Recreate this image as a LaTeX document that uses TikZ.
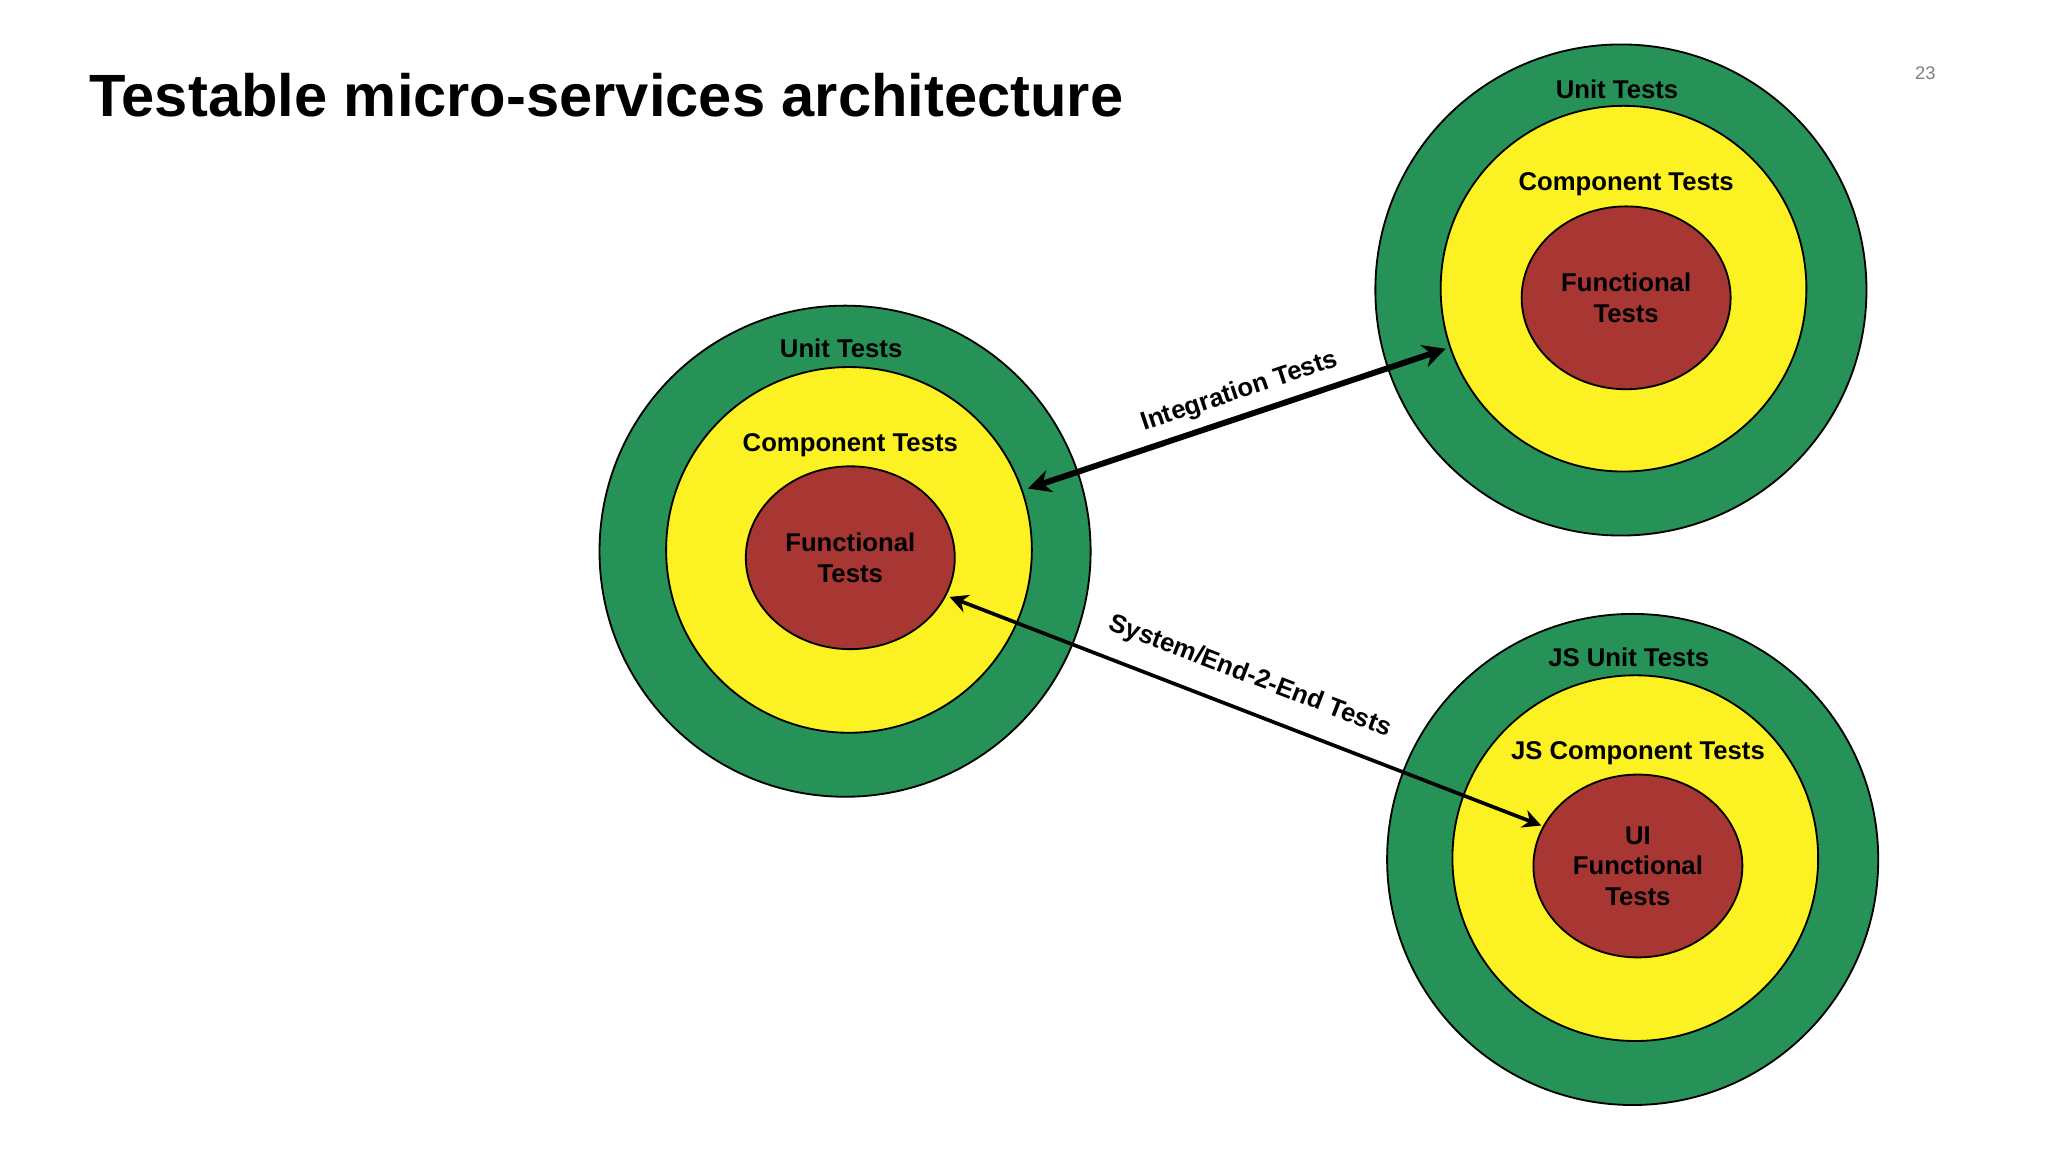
\documentclass[tikz,border=0pt]{standalone}
\usepackage{fontspec}
\setmainfont{Liberation Sans}
\usetikzlibrary{arrows.meta}
\definecolor{ogreen}{HTML}{269257}
\definecolor{oyellow}{HTML}{FCF122}
\definecolor{ored}{HTML}{A83632}
\tikzset{
 outer/.style={circle,draw=black,line width=0.4pt,fill=ogreen,minimum size=3.76cm,inner sep=0},
 mid/.style={circle,draw=black,line width=0.4pt,fill=oyellow,minimum size=2.8cm,inner sep=0},
 core/.style={ellipse,draw=black,line width=0.4pt,fill=ored,minimum width=1.6cm,minimum height=1.4cm,inner sep=0},
 lbl/.style={font=\fontsize{5.6}{6.6}\selectfont\bfseries,align=center,inner sep=0},
}
\usetikzlibrary{shapes.geometric}
\begin{document}
\begin{tikzpicture}
\useasboundingbox (0,0) rectangle (15.68,-8.82);
\node[anchor=west,inner sep=0,font=\fontsize{13}{15}\selectfont\bfseries] (title) at (0.68,-0.73) {Testable micro-services architecture};
\node[text=gray,font=\fontsize{4}{5}\selectfont] (pg) at (14.74,-0.56) {23};
% left
\node[outer] (lo) at (6.47,-4.22) {};
\node[mid] (lm) at (6.50,-4.21) {};
\node[core] (lc) at (6.51,-4.27) {};
\node[lbl] (lt1) at (6.44,-2.67) {Unit Tests};
\node[lbl] (lt2) at (6.51,-3.41) {Component Tests};
\node[lbl] (lt3) at (6.51,-4.27) {Functional\\Tests};
% top right
\node[outer] (to) at (12.41,-2.22) {};
\node[mid] (tm) at (12.43,-2.21) {};
\node[core] (tc) at (12.45,-2.28) {};
\node[lbl] (tt1) at (12.38,-0.68) {Unit Tests};
\node[lbl] (tt2) at (12.45,-1.41) {Component Tests};
\node[lbl] (tt3) at (12.45,-2.28) {Functional\\Tests};
% bottom right
\node[outer] (bo) at (12.50,-6.58) {};
\node[mid] (bm) at (12.52,-6.57) {};
\node[core] (bc) at (12.54,-6.63) {};
\node[lbl] (bt1) at (12.47,-5.03) {JS Unit Tests};
\node[lbl] (bt2) at (12.54,-5.77) {JS Component Tests};
\node[lbl] (bt3) at (12.54,-6.63) {UI\\Functional\\Tests};
% arrows
\coordinate (a1) at (7.87,-3.74);
\coordinate (a2) at (11.07,-2.67);
\draw[line width=1.3pt,{Stealth[length=5pt,width=5pt]}-{Stealth[length=5pt,width=5pt]}] (a1) -- (a2);
\node[lbl,rotate=18.5] (il) at (9.49,-3.00) {Integration Tests};
\coordinate (b1) at (7.27,-4.57);
\coordinate (b2) at (11.80,-6.32);
\draw[line width=0.8pt,{Stealth[length=4pt,width=4pt]}-{Stealth[length=4pt,width=4pt]}] (b1) -- (b2);
\node[lbl,rotate=-21] (sl) at (9.57,-5.18) {System/End-2-End Tests};
\end{tikzpicture}
\end{document}
